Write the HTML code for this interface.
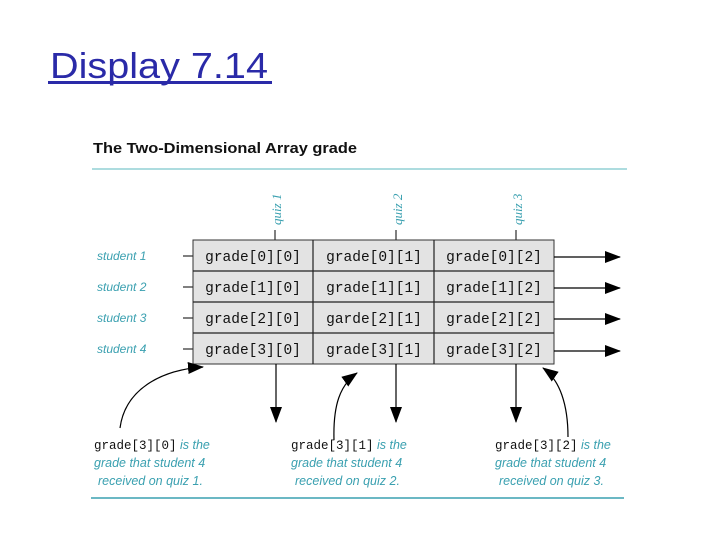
<!DOCTYPE html>
<html><head><meta charset="utf-8"><style>
html,body{margin:0;padding:0;background:#fff;width:720px;height:540px;overflow:hidden}
svg{display:block}
</style></head><body>
<svg width="720" height="540" xmlns="http://www.w3.org/2000/svg">
<defs>
<marker id="ah" markerWidth="16" markerHeight="12" refX="15" refY="6" orient="auto" markerUnits="userSpaceOnUse">
<path d="M0,0 L16,6 L0,12 Z" fill="#000"/></marker>
</defs>
<text x="50" y="78" font-family="Liberation Sans, sans-serif" font-size="36" fill="#2a2aa8" textLength="218" lengthAdjust="spacingAndGlyphs">Display 7.14</text>
<rect x="48" y="81" width="224" height="3" fill="#2a2aa8"/>
<text x="93" y="153" font-family="Liberation Sans, sans-serif" font-size="15" font-weight="bold" fill="#111" textLength="264" lengthAdjust="spacingAndGlyphs">The Two-Dimensional Array grade</text>
<line x1="92" y1="169" x2="627" y2="169" stroke="#7cc6cc" stroke-width="1.2"/>
<line x1="91" y1="498" x2="624" y2="498" stroke="#3aa0b0" stroke-width="1.5"/>
<g font-family="Liberation Serif, serif" font-style="italic" font-size="13" fill="#3aa0b0">
<text transform="translate(281,225) rotate(-90)">quiz 1</text>
<text transform="translate(402,225) rotate(-90)">quiz 2</text>
<text transform="translate(522,225) rotate(-90)">quiz 3</text>
</g>
<g stroke="#000" stroke-width="1">
<line x1="275" y1="230" x2="275" y2="240"/><line x1="396" y1="230" x2="396" y2="240"/><line x1="516" y1="230" x2="516" y2="240"/>
<line x1="183" y1="256" x2="193" y2="256"/><line x1="183" y1="287" x2="193" y2="287"/><line x1="183" y1="318" x2="193" y2="318"/><line x1="183" y1="349" x2="193" y2="349"/>
</g>
<rect x="193" y="240" width="361" height="124" fill="#e3e3e3" stroke="#333" stroke-width="1"/>
<g stroke="#222" stroke-width="1.2">
<line x1="313" y1="240" x2="313" y2="364"/><line x1="434" y1="240" x2="434" y2="364"/>
<line x1="193" y1="271" x2="554" y2="271"/><line x1="193" y1="302" x2="554" y2="302"/><line x1="193" y1="333" x2="554" y2="333"/>
</g>
<g font-family="Liberation Mono, monospace" font-size="14.5" fill="#111" text-anchor="middle">
<text x="253" y="261">grade[0][0]</text><text x="374" y="261">grade[0][1]</text><text x="494" y="261">grade[0][2]</text>
<text x="253" y="292">grade[1][0]</text><text x="374" y="292">grade[1][1]</text><text x="494" y="292">grade[1][2]</text>
<text x="253" y="323">grade[2][0]</text><text x="374" y="323">garde[2][1]</text><text x="494" y="323">grade[2][2]</text>
<text x="253" y="354">grade[3][0]</text><text x="374" y="354">grade[3][1]</text><text x="494" y="354">grade[3][2]</text>
</g>
<g font-family="Liberation Sans, sans-serif" font-style="italic" font-size="12" fill="#3aa0b0">
<text x="97" y="260">student 1</text><text x="97" y="291">student 2</text><text x="97" y="322">student 3</text><text x="97" y="353">student 4</text>
</g>
<g stroke="#000" stroke-width="1.2" fill="none" marker-end="url(#ah)">
<line x1="554" y1="257" x2="620" y2="257"/><line x1="554" y1="288" x2="620" y2="288"/><line x1="554" y1="319" x2="620" y2="319"/><line x1="554" y1="351" x2="620" y2="351"/>
<line x1="276" y1="364" x2="276" y2="422"/><line x1="396" y1="364" x2="396" y2="422"/><line x1="516" y1="364" x2="516" y2="422"/>
<path d="M120,428 C125,390 160,370 203,367"/>
<path d="M334,440 C333,405 340,385 357,373"/>
<path d="M568,437 C568,405 560,380 543,368"/>
</g>
<g font-size="12.5">
<text x="94" y="449"><tspan font-family="Liberation Mono, monospace" fill="#111">grade[3][0]</tspan><tspan font-family="Liberation Sans, sans-serif" font-style="italic" fill="#3aa0b0"> is the</tspan></text>
<text x="94" y="467" font-family="Liberation Sans, sans-serif" font-style="italic" fill="#3aa0b0">grade that student 4</text>
<text x="98" y="485" font-family="Liberation Sans, sans-serif" font-style="italic" fill="#3aa0b0">received on quiz 1.</text>
<text x="291" y="449"><tspan font-family="Liberation Mono, monospace" fill="#111">grade[3][1]</tspan><tspan font-family="Liberation Sans, sans-serif" font-style="italic" fill="#3aa0b0"> is the</tspan></text>
<text x="291" y="467" font-family="Liberation Sans, sans-serif" font-style="italic" fill="#3aa0b0">grade that student 4</text>
<text x="295" y="485" font-family="Liberation Sans, sans-serif" font-style="italic" fill="#3aa0b0">received on quiz 2.</text>
<text x="495" y="449"><tspan font-family="Liberation Mono, monospace" fill="#111">grade[3][2]</tspan><tspan font-family="Liberation Sans, sans-serif" font-style="italic" fill="#3aa0b0"> is the</tspan></text>
<text x="495" y="467" font-family="Liberation Sans, sans-serif" font-style="italic" fill="#3aa0b0">grade that student 4</text>
<text x="499" y="485" font-family="Liberation Sans, sans-serif" font-style="italic" fill="#3aa0b0">received on quiz 3.</text>
</g>
</svg>
</body></html>
